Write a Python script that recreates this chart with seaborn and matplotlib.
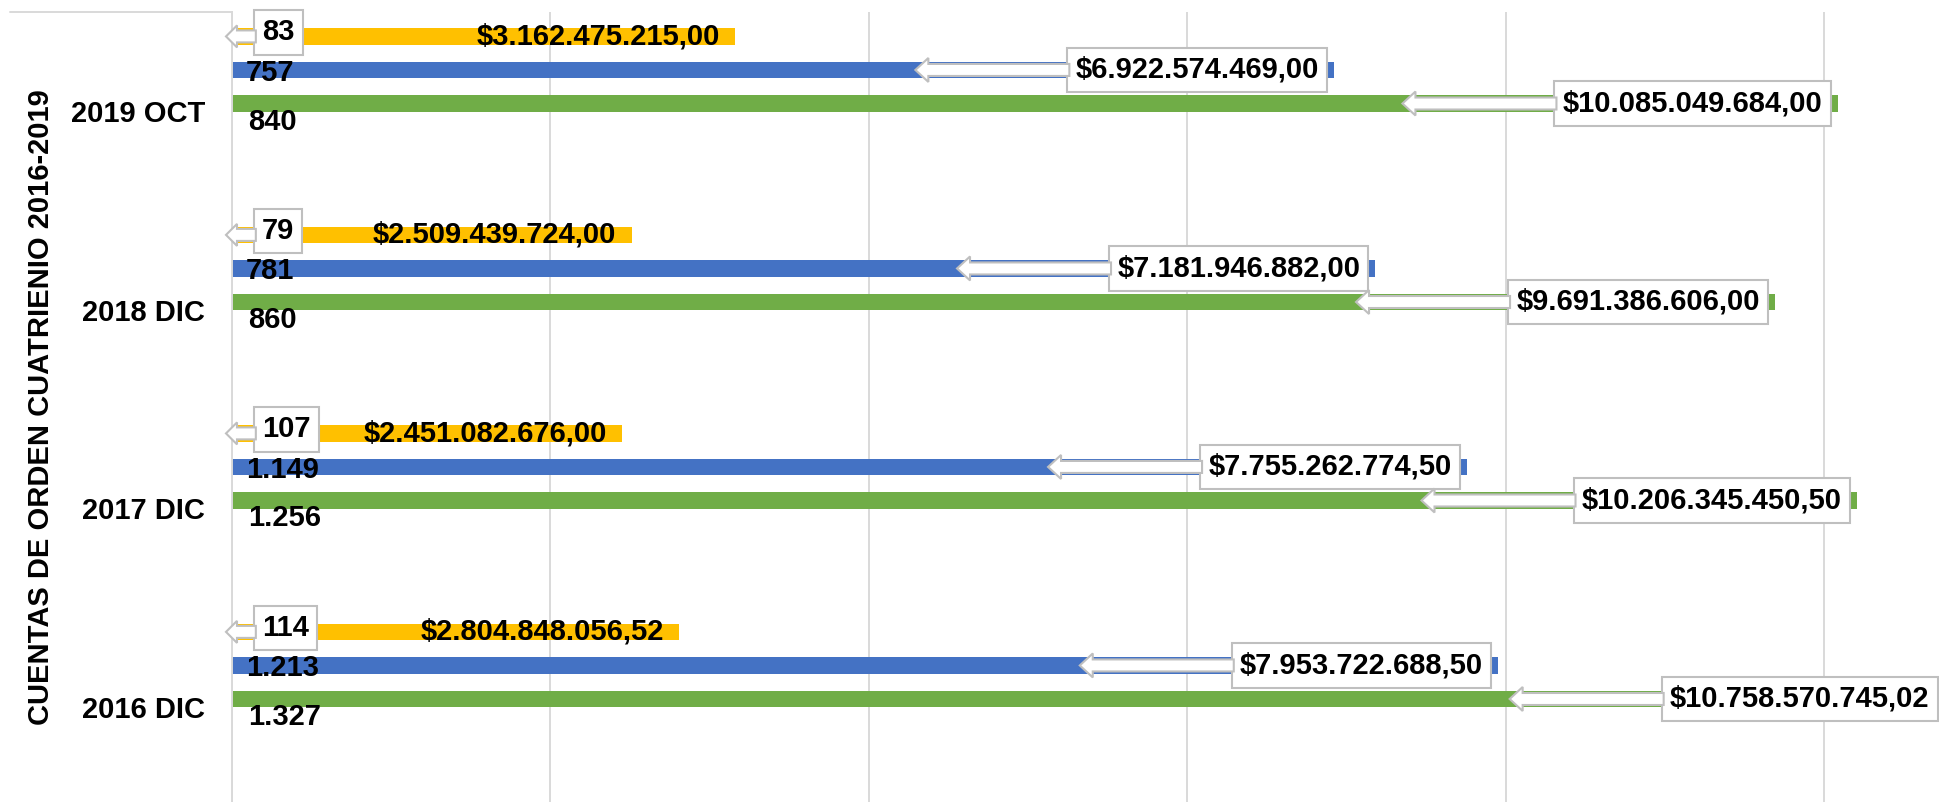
import numpy as np
import pandas as pd
import matplotlib
matplotlib.use("Agg")
import matplotlib.pyplot as plt
import seaborn as sns
from matplotlib.patches import Polygon
from matplotlib.transforms import IdentityTransform
from matplotlib.lines import Line2D

# ---------------- data ----------------
categorias = ["2019 OCT", "2018 DIC", "2017 DIC", "2016 DIC"]
series = ["Serie 1", "Serie 2", "Serie 3"]
valores_serie1 = [3162475215.00, 2509439724.00, 2451082676.00, 2804848056.52]
valores_serie2 = [6922574469.00, 7181946882.00, 7755262774.50, 7953722688.50]
valores_serie3 = [10085049684.00, 9691386606.00, 10206345450.50, 10758570745.02]
conteos_serie1 = [83, 79, 107, 114]
conteos_serie2 = [757, 781, 1149, 1213]
conteos_serie3 = [840, 860, 1256, 1327]
colores = ["#FFC000", "#4472C4", "#70AD47"]
titulo_eje = "CUENTAS DE ORDEN CUATRIENIO 2016-2019"

valores = [valores_serie1, valores_serie2, valores_serie3]
conteos = [conteos_serie1, conteos_serie2, conteos_serie3]

rows = []
for s, vals in zip(series, valores):
    for c, v in zip(categorias, vals):
        rows.append({"categoria": c, "serie": s, "valor": v})
df = pd.DataFrame(rows)


def fmt_money(v):
    s = f"{v:,.2f}"
    s = s.replace(",", "X").replace(".", ",").replace("X", ".")
    return "$" + s


def fmt_int(n):
    return f"{n:,}".replace(",", ".")


# ---------------- figure ----------------
sns.set_theme(style="white")
plt.rcParams["font.family"] = ["Liberation Sans", "DejaVu Sans"]
plt.rcParams["font.weight"] = "bold"
plt.rcParams["text.color"] = "black"
plt.rcParams["axes.labelcolor"] = "black"
plt.rcParams["ytick.color"] = "black"

FW, FH = 1939, 802
fig = plt.figure(figsize=(FW / 100, FH / 100), dpi=100)
left_px, top_px = 232, 12
ax = fig.add_axes([left_px / FW, 0, (FW - left_px) / FW, (FH - top_px) / FH])

sns.barplot(data=df, y="categoria", x="valor", hue="serie", order=categorias,
            hue_order=series, palette=colores, orient="h", width=0.507, gap=0.51,
            saturation=1, linewidth=0, legend=False, ax=ax)

px_per_unit = 159.2 / 1e9
ax.set_xlim(0, (FW - left_px) / px_per_unit)
ax.set_ylim(3.688, -0.292)
ax.set_xticks(np.arange(0, 11e9, 2e9))
ax.set_xticklabels([])
ax.grid(axis="x", color="#d9d9d9", lw=1.4)
ax.grid(axis="y", visible=False)
ax.set_axisbelow(True)
for s in ["top", "right", "bottom"]:
    ax.spines[s].set_visible(False)
ax.spines["left"].set_color("#d9d9d9")
ax.spines["left"].set_linewidth(1.4)
ax.set_yticks(np.arange(len(categorias)) + 0.207, categorias,
              fontsize=21, fontweight="bold", color="black")
ax.tick_params(axis="both", length=0)
ax.tick_params(axis="y", pad=19.5)
ax.set_xlabel("")
ax.set_ylabel("")

fig.text(41.5 / FW, 1 - 407 / FH, titulo_eje, rotation=90, ha="center",
         va="center", fontsize=21, fontweight="bold", color="black")
fig.add_artist(Line2D([10 / FW, left_px / FW], [1 - top_px / FH] * 2,
                      color="#d9d9d9", lw=1.4))

FS = 21
PAD = 0.28
pad_px = PAD * FS * 100 / 72
box = dict(boxstyle=f"square,pad={PAD}", fc="white", ec="#bfbfbf", lw=1.5)

boxed = []  # (text artist, mode, y)

for j, cont in enumerate(ax.containers):
    for i, bar in enumerate(cont):
        yc = bar.get_y() + bar.get_height() / 2
        v = valores[j][i]
        n = conteos[j][i]
        if j == 0:
            ax.annotate(fmt_money(v), xy=(v, yc), xytext=(-15, 0),
                        textcoords="offset pixels", ha="right", va="center",
                        fontsize=FS, fontweight="bold", zorder=6, color="black")
            t = ax.annotate(fmt_int(n), xy=(0, yc), xytext=(30, 4),
                            textcoords="offset pixels", ha="left", va="center",
                            fontsize=FS, fontweight="bold", zorder=6, bbox=box,
                            color="black")
            boxed.append((t, "count", yc))
        else:
            xend = ax.transData.transform((v, yc))[0]
            box_right = min(xend - 7, FW - 1.5)
            off = box_right - xend - pad_px
            t = ax.annotate(fmt_money(v), xy=(v, yc), xytext=(off, 0),
                            textcoords="offset pixels", ha="right", va="center",
                            fontsize=FS, fontweight="bold", zorder=6, bbox=box,
                            annotation_clip=False, color="black")
            boxed.append((t, "amount", yc))
            if j == 1:
                ax.annotate(fmt_int(n), xy=(0, yc), xytext=(14, -3),
                            textcoords="offset pixels", ha="left", va="center",
                            fontsize=FS, fontweight="bold", zorder=6, color="black")
            else:
                ax.annotate(fmt_int(n), xy=(0, yc), xytext=(16, -18),
                            textcoords="offset pixels", ha="left", va="center",
                            fontsize=FS, fontweight="bold", zorder=6, color="black")

fig.canvas.draw()
renderer = fig.canvas.get_renderer()


def block_arrow(x_start, x_tip, y, shaft, head, head_len):
    pts = [(x_start, y + shaft / 2), (x_tip + head_len, y + shaft / 2),
           (x_tip + head_len, y + head / 2), (x_tip, y),
           (x_tip + head_len, y - head / 2), (x_tip + head_len, y - shaft / 2),
           (x_start, y - shaft / 2)]
    p = Polygon(pts, closed=True, transform=IdentityTransform(), fc="white",
                ec="#bfbfbf", lw=1.5, zorder=5, clip_on=False)
    fig.add_artist(p)


x0_disp = ax.transData.transform((0, 0))[0]
for t, mode, yc in boxed:
    bb = t.get_bbox_patch().get_window_extent(renderer)
    ydisp = ax.transData.transform((0, yc))[1]
    if mode == "amount":
        block_arrow(bb.x0 + 2, bb.x0 - 152, ydisp, 12, 24, 13)
    else:
        block_arrow(bb.x0 + 2, x0_disp - 6, ydisp, 12, 22, 11)

fig.savefig("out.png", dpi=100)
